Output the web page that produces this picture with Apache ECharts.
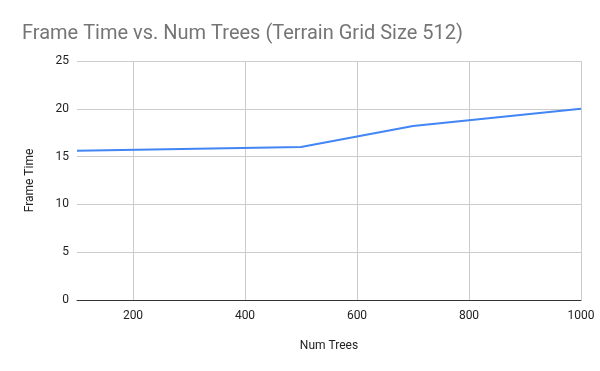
<!DOCTYPE html>
<html><head><meta charset="utf-8">
<script src="https://cdn.jsdelivr.net/npm/echarts@6/dist/echarts.min.js"></script>
<style>html,body{margin:0;padding:0;background:#fff}#c{width:600px;height:371px}</style>
</head><body><div id="c"></div>
<script>
const numTrees = [100, 500, 700, 1000];
const frameTime = [15.6, 16.0, 18.2, 20.0];
const xTicks = [200, 400, 600, 800, 1000];
const chart = echarts.init(document.getElementById('c'));
chart.setOption({
  animation: false,
  title: { text: 'Frame Time vs. Num Trees (Terrain Grid Size 512)', left: 17, top: 19,
    textStyle: { fontFamily: 'Roboto, Arial, sans-serif', fontSize: 20, fontWeight: 'normal', color: '#757575' } },
  grid: { left: 77, right: 19, top: 61, bottom: 71 },
  xAxis: { type: 'value', min: 100, max: 1000,
    name: 'Num Trees', nameLocation: 'middle', nameGap: 40,
    nameTextStyle: { fontFamily: 'Roboto, Arial, sans-serif', fontSize: 12, color: '#222' },
    axisLine: { show: true, lineStyle: { color: '#333', width: 1 } },
    axisTick: { show: false, customValues: xTicks },
    axisLabel: { fontFamily: 'Roboto, Arial, sans-serif', fontSize: 12, color: '#222', margin: 10,
      customValues: xTicks, formatter: v => String(v) },
    splitLine: { show: true, lineStyle: { color: '#ccc' } } },
  yAxis: { type: 'value', min: 0, max: 25, interval: 5,
    name: 'Frame Time', nameLocation: 'middle', nameGap: 41,
    nameTextStyle: { fontFamily: 'Roboto, Arial, sans-serif', fontSize: 12, color: '#222' },
    axisLine: { show: false }, axisTick: { show: false },
    axisLabel: { fontFamily: 'Roboto, Arial, sans-serif', fontSize: 12, color: '#222', margin: 8 },
    splitLine: { lineStyle: { color: '#ccc' } } },
  series: [{ type: 'line', data: numTrees.map((x, i) => [x, frameTime[i]]), showSymbol: false,
    lineStyle: { color: '#4285f4', width: 2 }, itemStyle: { color: '#4285f4' } }]
});
</script></body></html>
